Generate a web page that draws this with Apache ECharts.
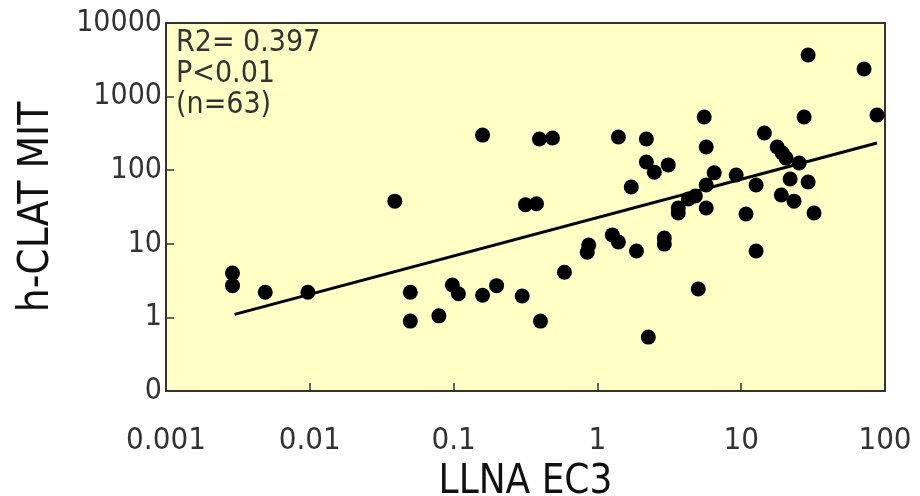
<!DOCTYPE html>
<html>
<head>
<meta charset="utf-8">
<script src="https://cdn.jsdelivr.net/npm/echarts@6/dist/echarts.min.js"></script>
<style>
  html, body { margin: 0; padding: 0; background: #ffffff; }
  #chart { width: 920px; height: 496px; }
</style>
</head>
<body>
<div id="chart"></div>
<script>
// LLNA EC3 (x) vs h-CLAT MIT (y)
const ec3 = [
  0.0029, 0.0029, 0.0049, 0.0097, 0.039, 0.05, 0.05, 0.079, 0.098, 0.108,
  0.159, 0.159, 0.199, 0.30, 0.316, 0.377, 0.395, 0.487, 0.402, 0.59,
  0.87, 0.85, 1.27, 1.40, 1.40, 1.72, 1.87, 2.19, 2.19, 2.49,
  3.11, 2.26, 2.92, 2.92, 3.65, 3.65, 4.29, 4.80, 5.03, 5.53,
  5.71, 5.71, 5.71, 6.49, 9.23, 10.8, 12.7, 12.7, 14.5, 17.8,
  19.3, 20.5, 25.3, 21.9, 29.2, 19.0, 23.3, 32.1, 29.2, 27.4,
  71.5, 88
]
const hclat = [
  4.0, 2.7, 2.2, 2.2, 38, 2.2, 0.89, 1.05, 2.75, 2.1,
  300, 2.0, 2.7, 1.95, 34, 35, 265, 274, 0.89, 4.1,
  9.6, 7.7, 13.2, 10.6, 283, 59, 8.0, 265, 129, 94,
  118, 0.54, 12.0, 9.9, 30.6, 26.2, 40.6, 44.6, 2.43, 528,
  207, 63, 30.6, 92, 86, 25.4, 63, 8.0, 320, 207,
  171, 146, 125, 76, 69, 46, 38, 26.2, 3675, 528,
  2371, 562
]
// regression line end points
const fitX = [0.003, 88]
const fitY = [1.1, 234]
const statLines = ['R2= 0.397', 'P<0.01', '(n=63)']

const FONT = "'Liberation Sans Narrow', 'DejaVu Sans Condensed', 'Liberation Sans', sans-serif"
const num = (v) => String(Number(v.toPrecision(6)))

const chart = echarts.init(document.getElementById('chart'))

chart.setOption({
  backgroundColor: '#ffffff',
  animation: false,
  grid: {
    left: 166, right: 35, top: 23, bottom: 105,
    outerBoundsMode: 'none',
    containLabel: false,
    show: true,
    backgroundColor: '#ffffc6',
    borderColor: '#333333',
    borderWidth: 2,
  },
  xAxis: {
    type: 'log',
    logBase: 10,
    min: 0.001,
    max: 100,
    name: 'LLNA EC3',
    nameLocation: 'middle',
    nameGap: 72,
    nameTextStyle: { fontFamily: FONT, fontSize: 40, color: '#111' },
    axisLine: { lineStyle: { color: '#333', width: 2 } },
    axisTick: { inside: true, length: 8, lineStyle: { color: '#333', width: 1.5 } },
    axisLabel: { fontFamily: FONT, fontSize: 31, color: '#333', margin: 34, formatter: num },
    splitLine: { show: false },
  },
  yAxis: {
    type: 'log',
    logBase: 10,
    min: 0.1,
    max: 10000,
    name: 'h-CLAT MIT',
    nameLocation: 'middle',
    nameGap: 108,
    nameTextStyle: { fontFamily: FONT, fontSize: 42, color: '#111' },
    axisLine: { lineStyle: { color: '#333', width: 2 } },
    axisTick: { inside: true, length: 8, lineStyle: { color: '#333', width: 1.5 } },
    axisLabel: {
      fontFamily: FONT, fontSize: 30, color: '#333', margin: 4,
      formatter: (v) => (v < 0.5 ? '0' : num(v)),
    },
    splitLine: { show: false },
  },
  graphic: [{
    type: 'text',
    left: 176,
    top: 28,
    style: {
      text: statLines.join('\n'),
      font: '30px ' + FONT,
      lineHeight: 31,
      fill: '#333',
    },
  }],
  series: [
    {
      type: 'line',
      data: fitX.map((x, i) => [x, fitY[i]]),
      symbol: 'none',
      lineStyle: { color: '#000', width: 3 },
      z: 2,
    },
    {
      type: 'scatter',
      data: ec3.map((x, i) => [x, hclat[i]]),
      symbolSize: 15,
      itemStyle: { color: '#000', opacity: 1 },
      z: 3,
    },
  ],
})
</script>
</body>
</html>
